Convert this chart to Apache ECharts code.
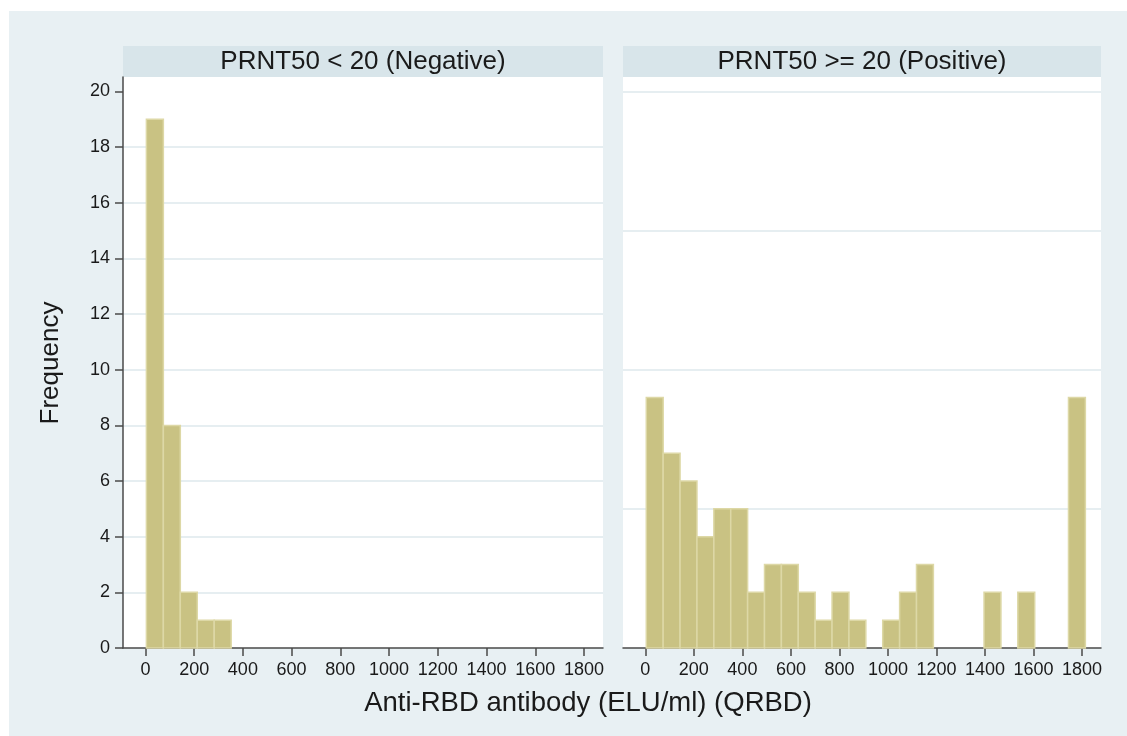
<!DOCTYPE html>
<html>
<head>
<meta charset="utf-8">
<script src="https://cdn.jsdelivr.net/npm/echarts@6/dist/echarts.min.js"></script>
<style>
  html, body { margin: 0; padding: 0; background: #ffffff; }
  #chart { width: 1127px; height: 736px; }
</style>
</head>
<body>
<div id="chart"></div>
<script>
// histogram bins (shared by both panels)
const binStart = 4;
const binWidth = 69.6;

// frequencies per bin
const negCounts = [19, 8, 2, 1, 1];
const posCounts = [9, 7, 6, 4, 5, 5, 2, 3, 3, 2, 1, 2, 1, 0, 1, 2, 3, 0, 0, 0, 2, 0, 2, 0, 0, 9];

const xTicks = [0, 200, 400, 600, 800, 1000, 1200, 1400, 1600, 1800];
const yTicks = [0, 2, 4, 6, 8, 10, 12, 14, 16, 18, 20];

const panelTitles = ["PRNT50 < 20 (Negative)", "PRNT50 >= 20 (Positive)"];
const xTitle = "Anti-RBD antibody (ELU/ml) (QRBD)";
const yTitle = "Frequency";

const font = "'Liberation Sans', Arial, sans-serif";
const barFill = "#c9c283";
const barEdge = "#ddd8a6";
const gridColor = "#e6eef1";
const axisColor = "#4a4a4a";

function toBins(counts) {
  return counts.map((c, i) => [binStart + i * binWidth, binStart + (i + 1) * binWidth, c]);
}

function renderBar(params, api) {
  const c = api.value(2);
  if (!c) return null;
  const p0 = api.coord([api.value(0), c]);
  const p1 = api.coord([api.value(1), 0]);
  return {
    type: "rect",
    shape: { x: p0[0], y: p0[1], width: p1[0] - p0[0], height: p1[1] - p0[1] },
    style: { fill: barFill, stroke: barEdge, lineWidth: 1.5 },
  };
}

function xAxisOpt(idx) {
  return {
    type: "value",
    gridIndex: idx,
    min: -92,
    max: 1878,
    splitLine: { show: false },
    axisLine: { show: true, onZero: false, lineStyle: { color: axisColor, width: 1.5 } },
    axisTick: { show: true, length: 8, customValues: xTicks, lineStyle: { color: axisColor, width: 1.5 } },
    axisLabel: {
      customValues: xTicks, margin: 13, fontSize: 18, fontFamily: font, color: "#1a1a1a",
      formatter: (v) => String(v),
    },
  };
}

const chart = echarts.init(document.getElementById("chart"));

const option = {
  animation: false,
  backgroundColor: "#ffffff",
  graphic: [
    { type: "rect", z: -10, shape: { x: 9, y: 11, width: 1118, height: 725 }, style: { fill: "#e8f0f3" } },
    { type: "rect", z: -5, shape: { x: 123, y: 46, width: 480, height: 31 }, style: { fill: "#d8e5ea" } },
    { type: "rect", z: -5, shape: { x: 623, y: 46, width: 478, height: 31 }, style: { fill: "#d8e5ea" } },
    {
      type: "text", x: 363, y: 62,
      style: { text: panelTitles[0], font: "26px " + font, fill: "#1a1a1a", align: "center", verticalAlign: "middle" },
    },
    {
      type: "text", x: 862, y: 62,
      style: { text: panelTitles[1], font: "26px " + font, fill: "#1a1a1a", align: "center", verticalAlign: "middle" },
    },
    {
      type: "text", x: 588, y: 703,
      style: { text: xTitle, font: "27.5px " + font, fill: "#1a1a1a", align: "center", verticalAlign: "middle" },
    },
    {
      type: "text", x: 51, y: 363, rotation: Math.PI / 2,
      style: { text: yTitle, font: "26px " + font, fill: "#1a1a1a", align: "center", verticalAlign: "middle" },
    },
  ],
  grid: [
    { left: 123, top: 77, width: 480, height: 571, show: true, backgroundColor: "#ffffff", borderWidth: 0 },
    { left: 623, top: 77, width: 478, height: 571, show: true, backgroundColor: "#ffffff", borderWidth: 0 },
  ],
  xAxis: [xAxisOpt(0), xAxisOpt(1)],
  yAxis: [
    {
      type: "value",
      gridIndex: 0,
      min: 0,
      max: 20.52,
      interval: 2,
      axisLine: { show: true, onZero: false, lineStyle: { color: axisColor, width: 1.5 } },
      axisTick: { show: true, length: 8, customValues: yTicks, lineStyle: { color: axisColor, width: 1.5 } },
      axisLabel: { customValues: yTicks, margin: 13, fontSize: 18, fontFamily: font, color: "#1a1a1a" },
      splitLine: { show: true, showMinLine: false, showMaxLine: false, lineStyle: { color: gridColor, width: 2 } },
    },
    {
      type: "value",
      gridIndex: 1,
      min: 0,
      max: 20.52,
      interval: 5,
      axisLine: { show: false, onZero: false },
      axisTick: { show: false },
      axisLabel: { show: false },
      splitLine: { show: true, showMinLine: false, showMaxLine: false, lineStyle: { color: gridColor, width: 2 } },
    },
  ],
  series: [
    { type: "custom", xAxisIndex: 0, yAxisIndex: 0, renderItem: renderBar, encode: { x: [0, 1], y: 2 }, data: toBins(negCounts) },
    { type: "custom", xAxisIndex: 1, yAxisIndex: 1, renderItem: renderBar, encode: { x: [0, 1], y: 2 }, data: toBins(posCounts) },
  ],
};

chart.setOption(option);
</script>
</body>
</html>
